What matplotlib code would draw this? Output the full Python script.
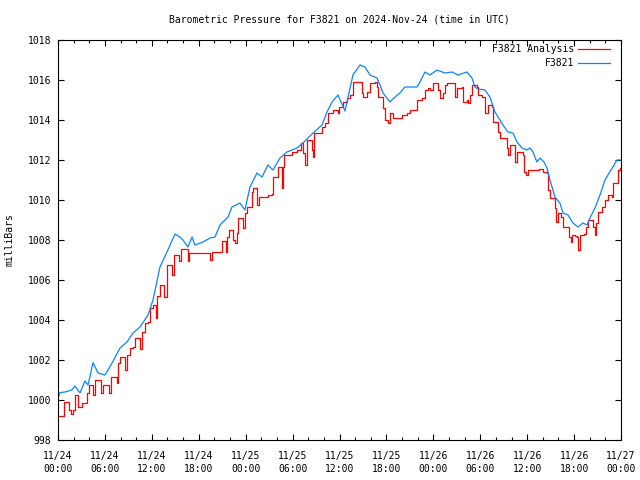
import matplotlib
matplotlib.use("Agg")
import matplotlib.pyplot as plt
from matplotlib.ticker import MultipleLocator

# ---- data (hours since 2024-11-24 00:00 UTC, pressure in mb) ----
station_hours = [0.00, 0.26, 0.90, 1.75, 2.17, 2.81, 3.45, 3.84, 4.48, 5.12, 6.01, 6.39, 6.91,
                 7.93, 8.82, 9.59, 10.49, 11.51, 12.15, 13.04, 13.94, 14.96, 15.60, 15.98, 16.62,
                 17.14, 17.52, 18.54, 19.44, 20.08, 20.72, 21.74, 22.25, 23.27, 23.91, 24.55,
                 25.45, 26.09, 26.85, 27.49, 28.39, 29.28, 30.56, 31.33, 32.61, 33.76, 34.40,
                 35.04, 35.81, 36.32, 36.70, 37.72, 38.62, 39.26, 39.90, 40.79, 41.18, 41.56,
                 42.46, 43.09, 43.73, 44.37, 45.91, 46.29, 46.93, 47.57, 48.47, 49.49, 50.38,
                 51.15, 52.30, 52.94, 53.32, 53.71, 54.60, 55.24, 55.88, 56.52, 56.91, 57.54,
                 58.18, 58.70, 59.34, 59.97, 60.36, 60.74, 61.25, 61.64, 62.15, 62.53, 62.92,
                 63.55, 64.19, 64.58, 65.22, 65.86, 66.50, 67.14, 67.65, 68.03, 68.67, 69.31,
                 69.95, 70.33, 70.97, 71.48, 72.00]
station_mb = [1000.1, 1000.37, 1000.4, 1000.5, 1000.7, 1000.35, 1000.95, 1000.75, 1001.87, 1001.35,
              1001.25, 1001.5, 1001.85, 1002.6, 1002.9, 1003.35, 1003.65, 1004.25, 1005.0, 1006.65,
              1007.4, 1008.3, 1008.15, 1008.0, 1007.65, 1008.15, 1007.75, 1007.9, 1008.1, 1008.15,
              1008.75, 1009.15, 1009.65, 1009.85, 1009.5, 1010.65, 1011.35, 1011.15, 1011.75,
              1011.5, 1012.1, 1012.4, 1012.6, 1012.85, 1013.35, 1013.75, 1014.4, 1014.9, 1015.25,
              1014.8, 1014.45, 1016.25, 1016.75, 1016.65, 1016.25, 1016.1, 1015.75, 1015.35,
              1014.9, 1015.15, 1015.35, 1015.65, 1015.65, 1015.9, 1016.4, 1016.25, 1016.5,
              1016.35, 1016.4, 1016.25, 1016.4, 1016.1, 1015.65, 1015.55, 1015.5, 1015.15,
              1014.4, 1014.0, 1013.75, 1013.4, 1013.35, 1012.9, 1012.6, 1012.5, 1012.6, 1012.4,
              1011.9, 1012.1, 1011.9, 1011.6, 1011.0, 1010.15, 1009.85, 1009.35, 1009.25,
              1008.85, 1008.65, 1008.85, 1008.75, 1009.1, 1009.6, 1010.25, 1011.0, 1011.25,
              1011.65, 1012.0, 1012.0]

analysis_hours = [0.00, 0.64, 0.77, 1.28, 1.41, 1.62, 1.92, 2.17, 2.43, 2.56, 3.07, 3.45, 3.71,
                  3.96, 4.35, 4.48, 4.73, 5.24, 5.50, 5.75, 6.27, 6.52, 6.78, 7.29, 7.54, 7.67,
                  7.93, 8.31, 8.57, 8.82, 9.21, 9.59, 9.85, 10.23, 10.49, 10.74, 11.13, 11.51,
                  11.76, 12.15, 12.53, 12.66, 13.04, 13.43, 13.55, 13.94, 14.32, 14.58, 14.83,
                  15.22, 15.47, 15.73, 16.24, 16.62, 16.75, 19.18, 19.44, 19.69, 20.46, 20.97,
                  21.36, 21.48, 21.61, 21.87, 22.25, 22.38, 22.63, 22.89, 23.02, 23.40, 23.66,
                  23.91, 24.17, 24.55, 24.81, 24.94, 25.32, 25.45, 25.70, 26.47, 26.85, 27.37,
                  27.49, 28.01, 28.13, 28.39, 28.64, 28.77, 28.90, 29.67, 29.92, 30.56, 30.82,
                  31.07, 31.33, 31.59, 31.84, 32.23, 32.48, 32.61, 32.74, 33.50, 33.76, 34.14,
                  34.53, 35.17, 35.68, 35.81, 35.93, 36.45, 36.96, 37.34, 37.72, 38.62, 38.87,
                  39.00, 39.51, 39.90, 40.54, 40.79, 40.92, 41.43, 41.56, 41.82, 42.20, 42.46,
                  42.84, 43.48, 43.99, 44.63, 45.01, 45.65, 45.91, 46.55, 46.93, 47.31, 47.57,
                  47.95, 48.47, 48.59, 48.85, 49.23, 49.49, 49.74, 50.51, 50.77, 51.02, 51.66,
                  51.79, 52.30, 52.43, 52.69, 52.94, 53.58, 53.71, 54.22, 54.48, 54.60, 54.99,
                  55.50, 55.63, 56.14, 56.27, 56.52, 57.16, 57.42, 57.54, 57.80, 58.18, 58.44,
                  58.70, 59.21, 59.46, 59.59, 59.85, 60.10, 61.25, 61.51, 62.02, 62.53, 62.66,
                  62.92, 63.30, 63.55, 63.68, 63.94, 64.32, 64.58, 65.09, 65.35, 65.60, 65.73,
                  66.11, 66.37, 66.50, 66.75, 67.26, 67.52, 67.77, 68.29, 68.41, 68.67, 68.80,
                  69.05, 69.57, 69.95, 70.33, 70.84, 70.97, 71.48, 71.61, 71.87]
analysis_mb = [999.2, 999.2, 999.9, 999.9, 999.5, 999.3, 999.5, 1000.25, 1000.25, 999.65, 999.85,
               999.85, 1000.35, 1000.75, 1000.75, 1000.25, 1001.0, 1001.0, 1000.35, 1000.75,
               1000.75, 1000.35, 1001.15, 1001.15, 1000.85, 1001.85, 1002.15, 1002.15, 1001.5,
               1002.25, 1002.6, 1002.65, 1003.1, 1003.1, 1002.55, 1003.4, 1003.85, 1003.9,
               1004.6, 1004.75, 1004.1, 1005.2, 1005.75, 1005.75, 1005.15, 1006.75, 1006.75,
               1006.25, 1007.25, 1007.25, 1006.95, 1007.55, 1007.55, 1006.95, 1007.35, 1007.35,
               1007.0, 1007.4, 1007.4, 1007.95, 1007.95, 1007.4, 1008.15, 1008.5, 1008.5,
               1008.0, 1007.85, 1008.35, 1009.1, 1009.1, 1008.6, 1009.35, 1009.65, 1009.65,
               1010.4, 1010.6, 1010.6, 1009.75, 1010.15, 1010.15, 1010.25, 1010.3, 1011.15,
               1011.15, 1011.65, 1011.65, 1010.6, 1011.65, 1012.25, 1012.25, 1012.4, 1012.5,
               1012.5, 1012.85, 1012.35, 1011.75, 1013.0, 1013.0, 1012.5, 1012.15, 1013.35,
               1013.35, 1013.65, 1013.85, 1014.35, 1014.5, 1014.5, 1014.35, 1014.65, 1014.9,
               1015.1, 1015.25, 1015.9, 1015.9, 1015.35, 1015.15, 1015.4, 1015.85, 1015.9,
               1015.65, 1015.15, 1015.15, 1014.6, 1014.0, 1013.85, 1014.35, 1014.1, 1014.1,
               1014.25, 1014.35, 1014.5, 1014.5, 1015.0, 1015.1, 1015.5, 1015.6, 1015.5,
               1015.85, 1015.85, 1015.5, 1015.1, 1015.35, 1015.75, 1015.85, 1015.85, 1015.15,
               1015.6, 1015.65, 1014.9, 1015.0, 1014.85, 1015.25, 1015.75, 1015.65, 1015.25,
               1015.15, 1015.15, 1014.35, 1014.75, 1014.65, 1013.9, 1013.9, 1013.4, 1013.1,
               1013.1, 1012.6, 1012.25, 1012.75, 1012.75, 1011.9, 1012.4, 1012.4, 1012.25,
               1011.4, 1011.25, 1011.5, 1011.5, 1011.55, 1011.4, 1011.35, 1010.5, 1010.1,
               1010.1, 1009.6, 1008.9, 1009.35, 1009.15, 1008.65, 1008.65, 1008.15, 1007.9,
               1008.25, 1008.2, 1008.15, 1007.5, 1008.25, 1008.3, 1008.65, 1009.0, 1009.0,
               1008.65, 1008.25, 1008.85, 1009.4, 1009.65, 1010.0, 1010.25, 1010.15, 1010.85,
               1010.85, 1011.5, 1011.6]

tick_hours = list(range(0, 73, 6))
tick_labels = ["11/24\n00:00", "11/24\n06:00", "11/24\n12:00", "11/24\n18:00",
               "11/25\n00:00", "11/25\n06:00", "11/25\n12:00", "11/25\n18:00",
               "11/26\n00:00", "11/26\n06:00", "11/26\n12:00", "11/26\n18:00",
               "11/27\n00:00"]
y_ticks = list(range(998, 1019, 2))

title = "Barometric Pressure for F3821 on 2024-Nov-24 (time in UTC)"
series_names = ["F3821 Analysis", "F3821"]
RED = "#ff0000"
BLUE = "#0a84ff"

plt.rcParams['font.family'] = ['DejaVu Sans Mono']
plt.rcParams['font.size'] = 7

fig = plt.figure(figsize=(6.4, 4.8), dpi=100)
ax = fig.add_axes([58 / 640, 40 / 480, 563 / 640, 400 / 480])

ax.plot(analysis_hours, analysis_mb, color=RED, lw=0.9, drawstyle='steps-post')
ax.plot(station_hours, station_mb, color=BLUE, lw=0.9)

ax.set_xlim(0, 72)
ax.set_ylim(998, 1018)
ax.set_xticks(tick_hours)
ax.set_xticklabels(tick_labels, linespacing=1.35)
ax.xaxis.set_minor_locator(MultipleLocator(2))
ax.set_yticks(y_ticks)
ax.set_yticklabels([str(v) for v in y_ticks])

ax.tick_params(axis='both', which='major', direction='in', length=4.5, width=0.8,
               top=True, right=True, labelsize=7)
ax.tick_params(axis='x', which='minor', direction='in', length=2.5, width=0.8,
               top=True, bottom=True)
ax.tick_params(axis='x', which='major', pad=8)
ax.tick_params(axis='y', which='major', pad=5)
for s in ax.spines.values():
    s.set_linewidth(0.8)

ax.set_title(title, fontsize=7, pad=12.5)
fig.text(10 / 640, 0.5, "milliBars", rotation=90, ha='center', va='center', fontsize=7)

# legend (gnuplot style: right-aligned text, sample line to the right)
for i, (name, col) in enumerate(zip(series_names, [RED, BLUE])):
    yy = 1 - (49 + 14 * i - 40) / 400
    ax.text(0.9165, yy, name, transform=ax.transAxes, ha='right', va='center', fontsize=7)
    ax.plot([0.924, 0.980], [yy, yy], transform=ax.transAxes, color=col, lw=0.9)

fig.savefig("out.png", dpi=100)
